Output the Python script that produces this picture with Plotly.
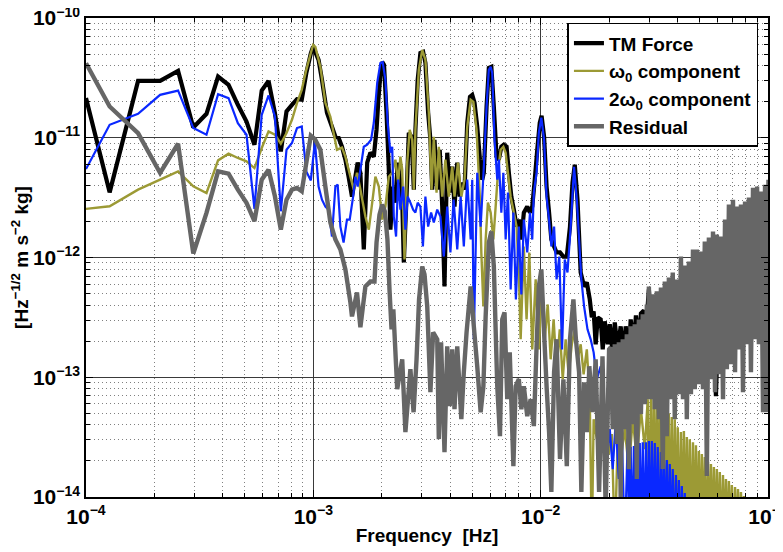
import plotly.graph_objects as go

# Curves: (log10 frequency [Hz], log10 ASD [Hz^-1/2 m s^-2 kg])
TM_FORCE = [
    (-4.000, -10.669), (-3.896, -11.456), (-3.771, -10.525), (-3.674, -10.525), (-3.595, -10.442),
    (-3.528, -10.914), (-3.470, -10.800), (-3.419, -10.489), (-3.373, -10.558), (-3.332, -10.725),
    (-3.294, -10.864), (-3.259, -11.058), (-3.227, -10.606), (-3.197, -10.525), (-3.169, -10.794),
    (-3.143, -11.114), (-3.118, -10.780), (-3.094, -10.725), (-3.072, -10.678), (-3.051, -10.683),
    (-3.031, -10.460), (-3.011, -10.294),
    (-3.001, -10.240), (-2.977, -10.350), (-2.962, -10.517), (-2.940, -10.792), (-2.918, -10.908),
    (-2.903, -10.992), (-2.889, -11.000), (-2.874, -11.075), (-2.859, -11.183), (-2.845, -11.325),
    (-2.830, -11.492), (-2.815, -11.325), (-2.805, -11.208), (-2.793, -11.292), (-2.778, -11.933),
    (-2.763, -11.208), (-2.749, -11.125), (-2.734, -11.158), (-2.722, -10.933), (-2.714, -10.683),
    (-2.705, -10.475), (-2.697, -10.367), (-2.689, -10.392), (-2.678, -10.792), (-2.668, -11.267),
    (-2.661, -11.767), (-2.649, -11.408), (-2.639, -11.542), (-2.629, -11.208), (-2.617, -11.375),
    (-2.609, -11.517), (-2.602, -12.042), (-2.590, -11.492), (-2.580, -10.958), (-2.568, -10.992),
    (-2.558, -11.433), (-2.551, -10.933), (-2.541, -10.517), (-2.529, -10.292), (-2.517, -10.283),
    (-2.507, -10.375), (-2.495, -10.792), (-2.485, -11.017), (-2.477, -11.433), (-2.467, -11.017),
    (-2.455, -11.433), (-2.444, -11.100), (-2.433, -11.575), (-2.423, -12.242), (-2.411, -11.125),
    (-2.400, -11.458), (-2.389, -11.242), (-2.379, -11.575), (-2.367, -11.208), (-2.356, -11.492),
    (-2.345, -11.375), (-2.335, -11.433), (-2.323, -10.875), (-2.311, -10.658), (-2.301, -10.642),
    (-2.291, -10.708), (-2.279, -10.908), (-2.267, -11.183), (-2.257, -11.350), (-2.250, -11.292),
    (-2.238, -10.742), (-2.228, -10.417), (-2.217, -10.408), (-2.206, -10.742), (-2.194, -11.158),
    (-2.184, -11.183), (-2.173, -11.075), (-2.162, -11.058), (-2.150, -11.075), (-2.140, -11.292),
    (-2.129, -11.492), (-2.118, -11.600), (-2.106, -11.742), (-2.096, -11.683), (-2.085, -11.850),
    (-2.074, -11.625), (-2.059, -11.575), (-2.047, -11.625), (-2.037, -11.575), (-2.026, -11.350),
    (-2.015, -11.100), (-2.004, -10.875), (-1.996, -10.817), (-1.985, -10.992), (-1.974, -11.408),
    (-1.963, -11.625), (-1.953, -11.850), (-1.941, -11.908), (-1.930, -11.958), (-1.915, -11.958),
    (-1.900, -11.992), (-1.885, -11.992), (-1.871, -11.742), (-1.860, -11.375), (-1.850, -11.225),
    (-1.838, -11.517), (-1.824, -12.125), (-1.809, -12.242), (-1.797, -12.208), (-1.784, -12.350),
    (-1.775, -12.500), (-1.767, -12.450), (-1.758, -12.725), (-1.749, -12.500), (-1.736, -12.517),
    (-1.727, -12.767), (-1.718, -12.533), (-1.705, -12.725), (-1.696, -12.558), (-1.683, -12.808),
    (-1.674, -12.542), (-1.661, -12.767), (-1.648, -12.575), (-1.634, -12.850), (-1.626, -12.575),
    (-1.612, -12.808), (-1.604, -12.517), (-1.590, -12.725), (-1.581, -12.483), (-1.568, -12.725),
    (-1.559, -12.467), (-1.546, -12.442), (-1.537, -12.600), (-1.524, -12.267), (-1.515, -12.517),
    (-1.493, -13.183), (-1.471, -12.350), (-1.436, -12.600), (-1.405, -12.267), (-1.361, -12.517),
    (-1.317, -12.100), (-1.273, -12.350), (-1.242, -12.600), (-1.229, -13.158), (-1.216, -12.350),
    (-1.172, -11.767), (-1.128, -12.017), (-1.084, -11.600), (-1.040, -11.850), (-0.998, -11.517),
]

OMEGA0 = [
    (-4.000, -11.594), (-3.896, -11.572), (-3.771, -11.433), (-3.674, -11.350), (-3.595, -11.281),
    (-3.528, -11.406), (-3.470, -11.461), (-3.419, -11.189), (-3.373, -11.133), (-3.332, -11.169),
    (-3.294, -11.197), (-3.259, -11.253), (-3.227, -11.086), (-3.197, -10.947), (-3.169, -10.975),
    (-3.143, -11.050), (-3.118, -10.961), (-3.094, -10.850), (-3.072, -10.711), (-3.051, -10.600),
    (-3.031, -10.433), (-3.011, -10.292),
    (-3.001, -10.225), (-2.991, -10.242), (-2.969, -10.408), (-2.947, -10.708), (-2.925, -10.825),
    (-2.911, -10.958), (-2.896, -11.100), (-2.874, -11.083), (-2.859, -11.158), (-2.837, -11.325),
    (-2.822, -11.433), (-2.808, -11.292), (-2.793, -11.433), (-2.771, -11.658), (-2.756, -11.767),
    (-2.741, -11.542), (-2.727, -11.325), (-2.712, -11.408), (-2.697, -11.683), (-2.683, -11.575),
    (-2.668, -11.325), (-2.653, -11.292), (-2.639, -11.183), (-2.627, -11.375), (-2.617, -11.158),
    (-2.609, -11.267), (-2.599, -12.017), (-2.587, -11.208), (-2.576, -10.933), (-2.565, -11.017),
    (-2.558, -11.433), (-2.551, -10.933), (-2.536, -10.433), (-2.521, -10.267), (-2.507, -10.350),
    (-2.492, -10.792), (-2.480, -11.433), (-2.470, -10.992), (-2.458, -11.458), (-2.448, -11.075),
    (-2.433, -11.492), (-2.419, -11.183), (-2.404, -11.492), (-2.389, -11.242), (-2.379, -11.492),
    (-2.364, -11.208), (-2.349, -11.492), (-2.335, -11.350), (-2.323, -10.908), (-2.308, -10.683),
    (-2.296, -10.700), (-2.282, -10.933), (-2.267, -11.517), (-2.261, -11.958), (-2.252, -12.408),
    (-2.242, -11.850), (-2.232, -11.542), (-2.220, -11.625), (-2.208, -11.850), (-2.198, -11.575),
    (-2.188, -11.292), (-2.176, -11.100), (-2.164, -11.075), (-2.154, -11.125), (-2.144, -11.292),
    (-2.132, -11.492), (-2.118, -11.625), (-2.106, -11.742), (-2.096, -12.125), (-2.088, -12.683),
    (-2.074, -11.908), (-2.062, -12.517), (-2.050, -11.958), (-2.037, -12.767), (-2.022, -12.183),
    (-2.008, -12.767), (-1.996, -12.267), (-1.982, -12.683), (-1.969, -12.392), (-1.956, -12.850),
    (-1.943, -12.517), (-1.930, -12.933), (-1.916, -12.600), (-1.903, -13.017), (-1.890, -12.683),
    (-1.877, -12.975), (-1.863, -12.725), (-1.850, -12.600), (-1.837, -12.850), (-1.824, -12.725),
    (-1.811, -12.975), (-1.797, -12.767), (-1.784, -13.183), (-1.775, -14.400), (-1.767, -13.350),
    (-1.753, -13.517), (-1.740, -13.392), (-1.727, -13.600), (-1.714, -13.433), (-1.700, -13.642),
    (-1.687, -13.475), (-1.674, -14.400), (-1.661, -13.517), (-1.648, -13.683), (-1.630, -13.433),
    (-1.612, -13.767), (-1.595, -13.350), (-1.577, -13.683), (-1.559, -13.267), (-1.542, -13.600),
    (-1.529, -13.183),
    (-1.522, -14.4), (-1.515, -13.100), (-1.509, -14.4), (-1.502, -13.142), (-1.496, -14.4),
    (-1.489, -13.167), (-1.482, -14.4), (-1.476, -13.150), (-1.469, -14.4), (-1.463, -13.225),
    (-1.456, -14.4), (-1.449, -13.250), (-1.443, -14.4), (-1.436, -13.300), (-1.430, -14.4),
    (-1.423, -13.333), (-1.416, -14.4), (-1.410, -13.350), (-1.403, -14.4), (-1.397, -13.417),
    (-1.390, -14.4), (-1.383, -13.458), (-1.377, -14.4), (-1.370, -13.450), (-1.363, -14.4),
    (-1.357, -13.500), (-1.350, -14.4), (-1.344, -13.517), (-1.337, -14.4), (-1.330, -13.542),
    (-1.324, -14.4), (-1.317, -13.567), (-1.311, -14.4), (-1.304, -13.617), (-1.297, -14.4),
    (-1.291, -13.642), (-1.284, -14.4), (-1.278, -13.667), (-1.271, -14.4), (-1.264, -13.708),
    (-1.258, -14.4), (-1.251, -13.725), (-1.245, -14.4), (-1.238, -13.750), (-1.231, -14.4),
    (-1.225, -13.767), (-1.218, -14.4), (-1.212, -13.792), (-1.205, -14.4), (-1.198, -13.817),
    (-1.192, -14.4), (-1.185, -13.850), (-1.178, -14.4), (-1.172, -13.867), (-1.165, -14.4),
    (-1.159, -13.900), (-1.152, -14.4), (-1.145, -13.917), (-1.139, -14.4), (-1.132, -13.933),
    (-1.126, -14.4), (-1.119, -13.958), (-1.112, -14.4), (-1.106, -13.992), (-1.099, -14.4),
]

TWO_OMEGA0 = [
    (-4.000, -11.261), (-3.896, -10.892), (-3.771, -10.800), (-3.674, -10.642), (-3.595, -10.606),
    (-3.528, -10.919), (-3.470, -10.975), (-3.419, -10.636), (-3.373, -10.669), (-3.332, -10.878),
    (-3.294, -10.975), (-3.259, -11.594), (-3.227, -10.808), (-3.197, -10.647), (-3.169, -10.822),
    (-3.143, -11.614), (-3.118, -11.100), (-3.094, -11.044), (-3.072, -10.919), (-3.051, -10.906),
    (-3.031, -11.281), (-3.011, -11.356),
    (-2.993, -11.031), (-2.977, -11.408), (-2.962, -11.517), (-2.947, -11.575), (-2.933, -11.600),
    (-2.918, -11.825), (-2.903, -11.408), (-2.893, -11.392), (-2.881, -11.742), (-2.867, -11.875),
    (-2.852, -11.683), (-2.840, -11.683), (-2.825, -11.492), (-2.815, -11.325), (-2.805, -11.408),
    (-2.793, -11.267), (-2.778, -11.075), (-2.763, -11.058), (-2.746, -11.017), (-2.734, -10.875),
    (-2.719, -10.542), (-2.705, -10.375), (-2.695, -10.367), (-2.683, -10.517), (-2.673, -10.875),
    (-2.661, -11.125), (-2.653, -11.075), (-2.646, -11.658), (-2.636, -11.825), (-2.627, -11.350),
    (-2.617, -11.600), (-2.605, -11.408), (-2.595, -11.767), (-2.585, -11.492), (-2.573, -11.542),
    (-2.561, -11.600), (-2.551, -11.625), (-2.541, -11.542), (-2.529, -11.575), (-2.518, -11.908),
    (-2.507, -11.492), (-2.495, -11.742), (-2.482, -11.625), (-2.470, -11.708), (-2.455, -11.600),
    (-2.441, -11.658), (-2.426, -11.992), (-2.411, -11.575), (-2.397, -11.958), (-2.383, -11.517),
    (-2.367, -11.933), (-2.352, -11.492), (-2.338, -11.908), (-2.323, -11.350), (-2.308, -11.850),
    (-2.301, -11.350), (-2.294, -12.683), (-2.279, -11.292), (-2.264, -11.742), (-2.250, -11.242),
    (-2.238, -10.742), (-2.228, -10.433), (-2.220, -10.408), (-2.213, -10.458), (-2.203, -11.017),
    (-2.191, -11.350), (-2.184, -11.183), (-2.173, -11.625), (-2.164, -11.292), (-2.154, -11.850),
    (-2.144, -11.458), (-2.132, -12.267), (-2.120, -11.625), (-2.109, -12.350), (-2.096, -11.742),
    (-2.085, -12.308), (-2.074, -11.683), (-2.059, -11.958), (-2.047, -11.625), (-2.037, -11.850),
    (-2.030, -11.458), (-2.018, -11.292), (-2.008, -10.958), (-1.997, -10.833), (-1.985, -11.017),
    (-1.974, -11.492), (-1.963, -11.683), (-1.953, -11.908), (-1.941, -11.742), (-1.930, -12.183),
    (-1.918, -11.992), (-1.906, -12.767), (-1.894, -12.017), (-1.882, -12.125), (-1.868, -11.742),
    (-1.853, -11.242), (-1.841, -11.517), (-1.831, -11.850), (-1.821, -12.183), (-1.809, -12.408),
    (-1.794, -12.600), (-1.780, -12.683), (-1.767, -12.792), (-1.753, -13.017), (-1.736, -12.908),
    (-1.722, -13.350), (-1.709, -13.683), (-1.696, -13.433), (-1.683, -13.767), (-1.670, -13.375),
    (-1.656, -13.850), (-1.643, -13.475), (-1.630, -14.400), (-1.617, -13.517),
    (-1.610, -14.4), (-1.604, -13.583), (-1.597, -14.4), (-1.590, -13.575), (-1.584, -14.4),
    (-1.577, -13.558), (-1.571, -14.4), (-1.564, -13.550), (-1.557, -14.4), (-1.551, -13.542),
    (-1.544, -14.4), (-1.537, -13.542), (-1.531, -14.4), (-1.524, -13.533), (-1.518, -14.4),
    (-1.511, -13.533), (-1.504, -14.4), (-1.498, -13.550), (-1.491, -14.4), (-1.485, -13.583),
    (-1.478, -14.4), (-1.471, -13.625), (-1.465, -14.4), (-1.458, -13.658), (-1.452, -14.4),
    (-1.445, -13.692), (-1.438, -14.4), (-1.432, -13.725), (-1.425, -14.4), (-1.419, -13.767),
    (-1.412, -14.4), (-1.405, -13.817), (-1.399, -14.4), (-1.392, -13.858), (-1.386, -14.4),
    (-1.379, -13.908), (-1.372, -14.4), (-1.366, -13.967), (-1.359, -14.4),
]

RESIDUAL = [
    (-4.000, -10.378), (-3.896, -10.739), (-3.771, -10.961), (-3.674, -11.294), (-3.595, -11.050),
    (-3.528, -11.967), (-3.470, -11.628), (-3.419, -11.281), (-3.373, -11.300), (-3.332, -11.433),
    (-3.294, -11.544), (-3.259, -11.697), (-3.227, -11.350), (-3.197, -11.267), (-3.169, -11.489),
    (-3.143, -11.767), (-3.118, -11.517), (-3.094, -11.433), (-3.072, -11.419), (-3.051, -11.447),
    (-3.031, -11.211), (-3.011, -10.983),
    (-2.993, -11.011), (-2.969, -11.100), (-2.947, -11.408), (-2.925, -11.708), (-2.903, -11.850),
    (-2.881, -11.933), (-2.859, -12.100), (-2.837, -12.375), (-2.830, -12.492), (-2.808, -12.292),
    (-2.793, -12.583), (-2.771, -12.242), (-2.749, -12.200), (-2.731, -12.200), (-2.722, -11.875),
    (-2.709, -11.642), (-2.697, -11.558), (-2.685, -11.617), (-2.674, -11.850), (-2.665, -12.267),
    (-2.656, -12.600), (-2.648, -12.433), (-2.631, -13.100), (-2.609, -12.850), (-2.595, -13.458),
    (-2.573, -12.933), (-2.559, -13.292), (-2.546, -12.850), (-2.535, -12.350), (-2.521, -12.075),
    (-2.511, -12.142), (-2.499, -12.408), (-2.485, -13.125), (-2.473, -12.625), (-2.455, -12.683),
    (-2.448, -13.517), (-2.438, -12.708), (-2.423, -13.625), (-2.411, -12.742), (-2.400, -13.242),
    (-2.389, -12.767), (-2.379, -13.267), (-2.367, -12.742), (-2.349, -13.350), (-2.338, -12.958),
    (-2.326, -12.625), (-2.308, -12.242), (-2.294, -12.575), (-2.279, -12.908), (-2.264, -13.292),
    (-2.252, -13.075), (-2.242, -12.492), (-2.228, -11.875), (-2.217, -11.783), (-2.206, -12.075),
    (-2.191, -13.075), (-2.179, -13.492), (-2.169, -12.517), (-2.159, -12.458), (-2.147, -13.183),
    (-2.136, -12.792), (-2.120, -13.742), (-2.110, -13.075), (-2.096, -13.017), (-2.085, -13.267),
    (-2.074, -13.075), (-2.059, -13.325), (-2.044, -13.183), (-2.030, -13.408), (-2.018, -12.742),
    (-2.008, -12.242), (-1.997, -12.100), (-1.985, -12.625), (-1.974, -13.075), (-1.963, -13.458),
    (-1.953, -13.958), (-1.941, -12.958), (-1.930, -12.683), (-1.915, -13.683), (-1.900, -13.017),
    (-1.885, -13.742), (-1.871, -12.683), (-1.856, -12.350), (-1.845, -12.683), (-1.831, -12.958),
    (-1.821, -13.958), (-1.809, -13.042), (-1.797, -13.458), (-1.786, -12.908), (-1.772, -13.292),
    (-1.758, -12.850), (-1.743, -13.958), (-1.728, -12.825), (-1.714, -14.100), (-1.699, -12.767),
    (-1.692, -12.750), (-1.683, -13.433), (-1.674, -12.725), (-1.665, -13.558), (-1.656, -12.708),
    (-1.648, -14.017), (-1.639, -12.683), (-1.630, -13.433), (-1.621, -12.642), (-1.612, -13.767),
    (-1.604, -12.575), (-1.595, -13.392), (-1.586, -12.558), (-1.577, -13.850), (-1.568, -12.517),
    (-1.559, -13.308), (-1.551, -12.475), (-1.542, -13.225), (-1.533, -12.392), (-1.529, -13.183),
    (-1.524, -12.242), (-1.515, -13.183), (-1.507, -12.308), (-1.498, -13.267), (-1.489, -12.283),
    (-1.480, -13.350), (-1.471, -12.250), (-1.463, -13.767), (-1.454, -12.200), (-1.445, -13.492),
    (-1.436, -12.167), (-1.427, -13.183), (-1.419, -12.125), (-1.410, -13.350), (-1.401, -12.183),
    (-1.392, -13.142), (-1.383, -11.992), (-1.374, -13.183), (-1.366, -12.067), (-1.357, -13.350),
    (-1.348, -12.033), (-1.339, -13.142), (-1.330, -11.933), (-1.322, -13.100), (-1.313, -11.933),
    (-1.304, -13.058), (-1.295, -11.950), (-1.286, -13.100), (-1.278, -11.867), (-1.269, -13.825),
    (-1.260, -11.833), (-1.251, -13.017), (-1.242, -11.783), (-1.233, -13.125), (-1.225, -11.808),
    (-1.216, -12.975), (-1.207, -11.825), (-1.198, -13.183), (-1.189, -11.683), (-1.181, -12.933),
    (-1.172, -11.558), (-1.163, -12.892), (-1.154, -11.517), (-1.145, -12.958), (-1.137, -11.575),
    (-1.128, -12.767), (-1.119, -11.558), (-1.110, -13.125), (-1.101, -11.533), (-1.093, -12.725),
    (-1.084, -11.500), (-1.075, -12.958), (-1.066, -11.417), (-1.057, -12.683), (-1.048, -11.408),
    (-1.040, -12.725), (-1.031, -11.450), (-1.022, -13.292), (-1.013, -11.392), (-1.004, -13.292),
    (-0.998, -11.350),
]

SERIES_NAMES = ["<b>TM Force</b>", "<b>ω<sub>0</sub> component</b>",
                "<b>2ω<sub>0</sub> component</b>", "<b>Residual</b>"]
SERIES_COLORS = ["#000000", "#9c9a35", "#0a28ff", "#666666"]
SERIES_WIDTHS = [4.2, 2.4, 2.2, 4.4]

SUP = "<sup><span style='font-size:14px'>{}</span></sup>"
X_TICKS = [1e-4, 1e-3, 1e-2, 1e-1]
X_TICK_TEXT = ["<b>10" + SUP.format(e) + "</b>" for e in ["−4", "−3", "−2", "−1"]]
Y_TICKS = [1e-14, 1e-13, 1e-12, 1e-11, 1e-10]
Y_TICK_TEXT = ["<b>10" + SUP.format(e) + "</b>" for e in ["−14", "−13", "−12", "−11", "−10"]]

FONT = "Liberation Sans, Arial, Helvetica, sans-serif"


def unpack(pairs):
    return [10 ** p[0] for p in pairs], [10 ** p[1] for p in pairs]


fig = go.Figure()
for data, name, color, width in zip([TM_FORCE, OMEGA0, TWO_OMEGA0, RESIDUAL],
                                    SERIES_NAMES, SERIES_COLORS, SERIES_WIDTHS):
    xs, ys = unpack(data)
    fig.add_trace(go.Scatter(x=xs, y=ys, mode="lines", name=name,
                             line=dict(color=color, width=width, simplify=False)))

minor_x = [m * 10.0 ** e for e in range(-4, -1) for m in range(2, 10)]
minor_y = [m * 10.0 ** e for e in range(-14, -10) for m in range(2, 10)]

axis_common = dict(
    type="log", showline=True, linecolor="black", linewidth=1.5, mirror="ticks",
    ticks="inside", ticklen=7, tickwidth=1, tickcolor="black",
    showgrid=True, gridcolor="#3a3a3a", gridwidth=1,
    tickfont=dict(family=FONT, size=21, color="black"),
    zeroline=False, automargin=False, ticklabeloverflow="allow",
)
minor_common = dict(tickmode="array", ticks="inside", ticklen=4, tickcolor="black",
                    showgrid=True, griddash="1px,3px", gridcolor="#808080", gridwidth=1)

# the page body adds an 8 px offset, so the margins are shifted accordingly
fig.update_layout(
    width=783, height=552,
    margin=dict(l=78, r=23, t=10, b=63, autoexpand=False),
    paper_bgcolor="white", plot_bgcolor="white",
    font=dict(family=FONT, color="black"),
    xaxis=dict(
        range=[-4, -1], tickvals=X_TICKS, ticktext=X_TICK_TEXT,
        minor=dict(tickvals=minor_x, **minor_common),
        title=dict(text="<b>Frequency\u00a0 [Hz]</b>", font=dict(family=FONT, size=19),
                   standoff=2),
        **axis_common,
    ),
    yaxis=dict(
        range=[-14, -10], tickvals=Y_TICKS, ticktext=Y_TICK_TEXT,
        minor=dict(tickvals=minor_y, **minor_common),
        title=dict(text="<b>[Hz<sup>−1/2</sup> m s<sup>−2</sup> kg]</b>",
                   font=dict(family=FONT, size=19), standoff=6),
        **axis_common,
    ),
    legend=dict(
        x=0.986, y=0.99, xanchor="right", yanchor="top",
        bgcolor="white", bordercolor="black", borderwidth=1.5,
        font=dict(family=FONT, size=19, color="black"),
        tracegroupgap=0, itemwidth=30,
    ),
    showlegend=True,
)

fig.write_html("out.html")
